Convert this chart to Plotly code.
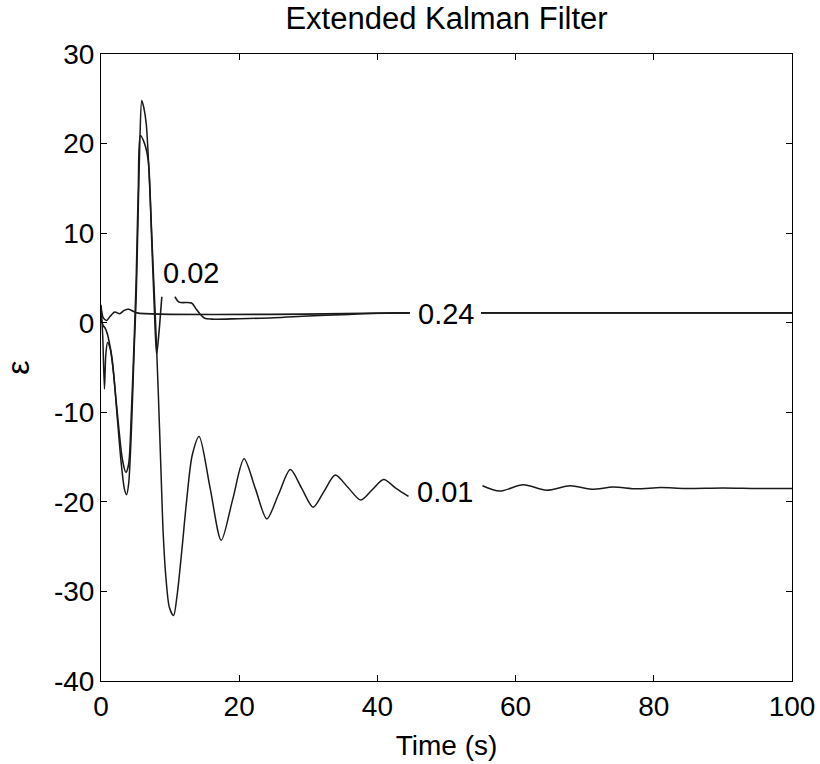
import plotly.graph_objects as go

# ---- data ----
t_001 = [0, 0.25, 0.5, 0.7, 0.95, 1.3, 1.8, 2.4, 2.9, 3.4, 3.7, 4.0, 4.4, 4.8, 5.1, 5.4, 5.65, 5.9,
         6.2, 6.55, 7.0, 7.5, 7.9, 8.3, 8.7, 9.0, 9.4, 9.9, 10.5, 11.0, 11.7, 12.4, 13.2, 14.2,
         15.8, 17.4, 19.05, 20.7, 22.35, 24.0, 25.7, 27.4, 29.05, 30.7, 32.3, 33.9, 35.75, 37.6,
         39.25, 40.9, 42.7, 44.5, None,
         55.2, 57.7, 61.1, 64.5, 67.9, 71.0, 74.1, 77.5, 81.0, 84.5, 90.0, 95.0, 100.0]
y_001 = [2.0, -1.5, -7.4, -3.5, -2.2, -2.8, -5.5, -11.0, -15.5, -18.6, -19.2, -18.0, -12.0, -3.0, 3.0, 13.0, 21.0, 24.8,
         24.0, 22.2, 16.0, 7.0, 0.0, -8.0, -17.0, -23.5, -28.5, -31.8, -32.7, -30.5, -25.4, -19.8, -14.8, -12.7,
         -18.5, -24.3, -19.75, -15.2, -18.55, -21.9, -19.15, -16.4, -18.5, -20.6, -18.8, -17.0, -18.4, -19.8,
         -18.65, -17.5, -18.5, -19.4, None,
         -18.2, -18.8, -18.1, -18.7, -18.2, -18.6, -18.35, -18.55, -18.4, -18.5, -18.45, -18.5, -18.5]

t_002 = [0, 0.3, 0.6, 0.9, 1.2, 1.6, 2.1, 2.6, 3.1, 3.6, 4.0, 4.4, 4.8, 5.1, 5.4, 5.7, 6.3, 6.85,
         7.3, 7.7, 8.05, 8.4, 8.8, None,
         10.7, 11.3, 13.1, 13.7, 14.3, 15.0, 16.0, 20.0, 25.0, 30.0, 35.0, 40.0, 44.7, None,
         55.0, 100.0]
y_002 = [0.5, -0.3, -0.6, -1.2, -2.2, -4.0, -8.0, -12.0, -15.3, -16.7, -15.8, -10.0, -2.0, 5.0, 15.0, 20.9, 20.0, 18.0,
         10.0, 2.0, -3.5, -1.0, 2.9, None,
         2.9, 2.3, 2.2, 1.6, 1.0, 0.5, 0.4, 0.45, 0.55, 0.75, 0.9, 1.05, 1.1, None,
         1.1, 1.1]

t_024 = [0, 0.3, 0.8, 1.3, 2.0, 2.7, 3.3, 4.0, 4.6, 5.2, 44.7, None, 55.0, 100.0]
y_024 = [1.8, 0.6, 0.25, 0.7, 1.2, 1.0, 1.35, 1.5, 1.3, 1.1, 1.1, None, 1.1, 1.1]

labels = ["0.01", "0.02", "0.24"]
label_x = [49.8, 13.0, 49.9]
label_y = [-18.9, 5.5, 1.0]

x_ticks = [0, 20, 40, 60, 80, 100]
y_ticks = [-40, -30, -20, -10, 0, 10, 20, 30]

FONT = "Liberation Sans, Arial, sans-serif"

fig = go.Figure()
widths = [1.5, 1.6, 1.6]
for (tx, ty), w in zip([(t_001, y_001), (t_002, y_002), (t_024, y_024)], widths):
    fig.add_trace(go.Scatter(x=tx, y=ty, mode="lines",
                             line=dict(color="#1a1a1a", width=w, shape="spline", smoothing=0.8),
                             showlegend=False, hoverinfo="skip"))

for lab, lx, ly in zip(labels, label_x, label_y):
    fig.add_annotation(x=lx, y=ly, text=lab, showarrow=False,
                       font=dict(family=FONT, size=29, color="black"),
                       xanchor="center", yanchor="middle")

fig.update_layout(
    width=820, height=764,
    paper_bgcolor="white", plot_bgcolor="white",
    margin=dict(l=101, r=28, t=54, b=83),
    font=dict(family=FONT, size=27, color="black"),
    title=dict(text="Extended Kalman Filter", x=(101 + 792) / 2 / 820, xanchor="center",
               y=1 - 18 / 764, yanchor="middle", yref="container",
               font=dict(family=FONT, size=31, color="black")),
)
fig.update_xaxes(range=[0, 100], tickvals=x_ticks, ticktext=[str(v) for v in x_ticks],
                 showgrid=False, zeroline=False, showline=True, linecolor="black", linewidth=1,
                 mirror="ticks", ticks="inside", ticklen=6, tickcolor="black", automargin=False,
                 title=dict(text="Time (s)", standoff=14, font=dict(family=FONT, size=28)),
                 tickfont=dict(family=FONT, size=28))
fig.update_yaxes(range=[-40, 30], tickvals=y_ticks, ticktext=[str(v) for v in y_ticks],
                 showgrid=False, zeroline=False, showline=True, linecolor="black", linewidth=1,
                 mirror="ticks", ticks="inside", ticklen=6, tickcolor="black", automargin=False,
                 title=dict(text="ε", standoff=14, font=dict(family=FONT, size=32)),
                 tickfont=dict(family=FONT, size=28))

fig.write_html("out.html")
